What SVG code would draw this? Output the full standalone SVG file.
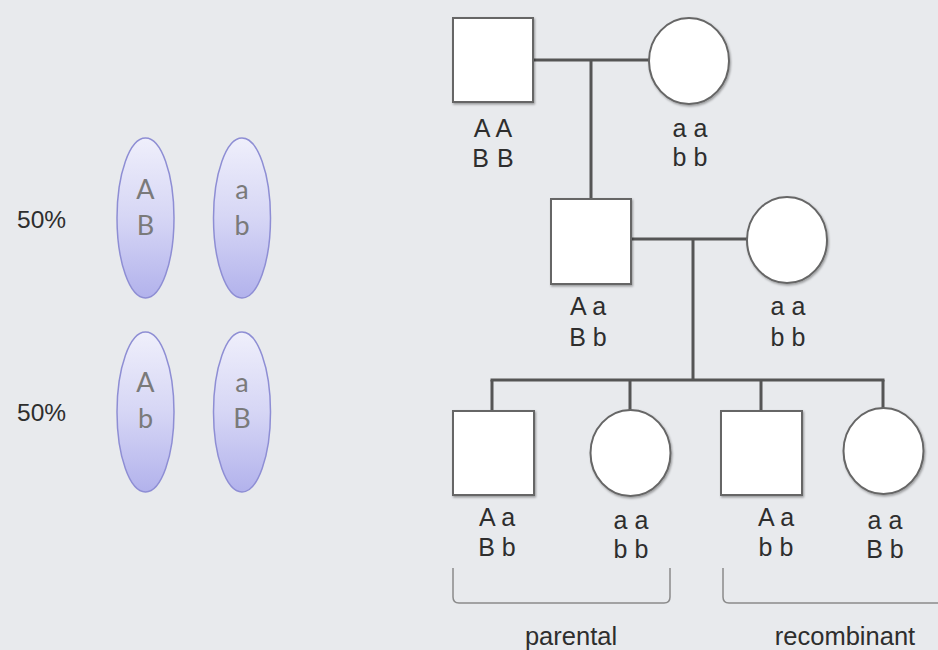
<svg xmlns="http://www.w3.org/2000/svg" width="938" height="650" viewBox="0 0 938 650">
  <defs>
    <linearGradient id="chromFill" x1="0" y1="0" x2="0" y2="1">
      <stop offset="0" stop-color="#efeffb"/>
      <stop offset="0.5" stop-color="#d6d6f5"/>
      <stop offset="1" stop-color="#b2b2ec"/>
    </linearGradient>
    <filter id="shadow" x="-10%" y="-10%" width="125%" height="125%">
      <feDropShadow dx="1" dy="1.5" stdDeviation="1" flood-color="#000" flood-opacity="0.35"/>
    </filter>
  </defs>
  <style>
    .person { fill: #ffffff; stroke: #666666; stroke-width: 2; filter: url(#shadow); }
    .line { stroke: #555555; stroke-width: 3; fill: none; }
    .bracket { stroke: #8a8a8a; stroke-width: 1.5; fill: none; }
    .geno { font-family: "Liberation Sans", Arial, sans-serif; font-size: 25px; fill: #2e2e2e; text-anchor: middle; }
    .label { font-family: "Liberation Sans", Arial, sans-serif; font-size: 25.5px; fill: #2e2e2e; text-anchor: middle; }
    .pct { font-family: "Liberation Sans", Arial, sans-serif; font-size: 24.5px; fill: #2e2e2e; }
    .chrom { fill: url(#chromFill); stroke: #8e8ed4; stroke-width: 1.5; }
    .allele { font-family: Lato, "Open Sans", sans-serif; font-size: 27px; fill: #7a7a7a; text-anchor: middle; }
  </style>

  <rect width="938" height="650" fill="#e8eaed"/>

  <!-- gamete chromosomes -->
  <g id="gametes-parental">
    <text class="pct" x="17" y="228">50%</text>
    <ellipse class="chrom" cx="145.5" cy="218" rx="28.5" ry="80"/>
    <text class="allele" x="145.5" y="199">A</text>
    <text class="allele" x="145.5" y="235">B</text>
    <ellipse class="chrom" cx="242" cy="218" rx="28.5" ry="80"/>
    <text class="allele" x="242" y="199">a</text>
    <text class="allele" x="242" y="235">b</text>
  </g>
  <g id="gametes-recombinant">
    <text class="pct" x="17" y="421">50%</text>
    <ellipse class="chrom" cx="145.5" cy="412" rx="28.5" ry="80"/>
    <text class="allele" x="145.5" y="392">A</text>
    <text class="allele" x="145.5" y="428">b</text>
    <ellipse class="chrom" cx="242" cy="412" rx="28.5" ry="80"/>
    <text class="allele" x="242" y="392">a</text>
    <text class="allele" x="242" y="428">B</text>
  </g>

  <!-- pedigree lines -->
  <g id="connectors">
    <line class="line" x1="533" y1="60" x2="649" y2="60"/>
    <line class="line" x1="591" y1="60" x2="591" y2="199"/>
    <line class="line" x1="631" y1="239" x2="747" y2="239"/>
    <line class="line" x1="693" y1="239" x2="693" y2="380"/>
    <line class="line" x1="490.5" y1="380" x2="884.5" y2="380"/>
    <line class="line" x1="492" y1="380" x2="492" y2="411"/>
    <line class="line" x1="630" y1="380" x2="630" y2="410"/>
    <line class="line" x1="761" y1="380" x2="761" y2="411"/>
    <line class="line" x1="883" y1="380" x2="883" y2="408"/>
  </g>

  <!-- generation I -->
  <g id="gp-father">
    <rect class="person" x="453" y="18" width="80" height="84"/>
    <text class="geno" x="493" y="137" word-spacing="1">A A</text>
    <text class="geno" x="493" y="167" word-spacing="1">B B</text>
  </g>
  <g id="gp-mother">
    <ellipse class="person" cx="689" cy="61" rx="40" ry="43"/>
    <text class="geno" x="690" y="137">a a</text>
    <text class="geno" x="690" y="166">b b</text>
  </g>

  <!-- generation II -->
  <g id="father">
    <rect class="person" x="551" y="199" width="80" height="85"/>
    <text class="geno" x="588" y="315">A a</text>
    <text class="geno" x="588" y="346">B b</text>
  </g>
  <g id="mother">
    <ellipse class="person" cx="787" cy="240" rx="40" ry="43"/>
    <text class="geno" x="788" y="315">a a</text>
    <text class="geno" x="788" y="346">b b</text>
  </g>

  <!-- generation III -->
  <g id="child-1">
    <rect class="person" x="453" y="411" width="81" height="84"/>
    <text class="geno" x="497" y="526">A a</text>
    <text class="geno" x="497" y="556">B b</text>
  </g>
  <g id="child-2">
    <ellipse class="person" cx="630.5" cy="453" rx="40" ry="43"/>
    <text class="geno" x="631" y="529">a a</text>
    <text class="geno" x="631" y="558">b b</text>
  </g>
  <g id="child-3">
    <rect class="person" x="721" y="411" width="81" height="84"/>
    <text class="geno" x="776" y="526">A a</text>
    <text class="geno" x="776" y="556">b b</text>
  </g>
  <g id="child-4">
    <ellipse class="person" cx="883.5" cy="451" rx="40" ry="43"/>
    <text class="geno" x="885" y="529">a a</text>
    <text class="geno" x="885" y="558">B b</text>
  </g>

  <!-- offspring classes -->
  <g id="class-parental">
    <path class="bracket" d="M453,568 V597 Q453,603 459,603 H664 Q670,603 670,597 V568"/>
    <text class="label" x="571" y="645">parental</text>
  </g>
  <g id="class-recombinant">
    <path class="bracket" d="M723,568 V597 Q723,603 729,603 H940"/>
    <text class="label" x="845" y="645">recombinant</text>
  </g>
</svg>
